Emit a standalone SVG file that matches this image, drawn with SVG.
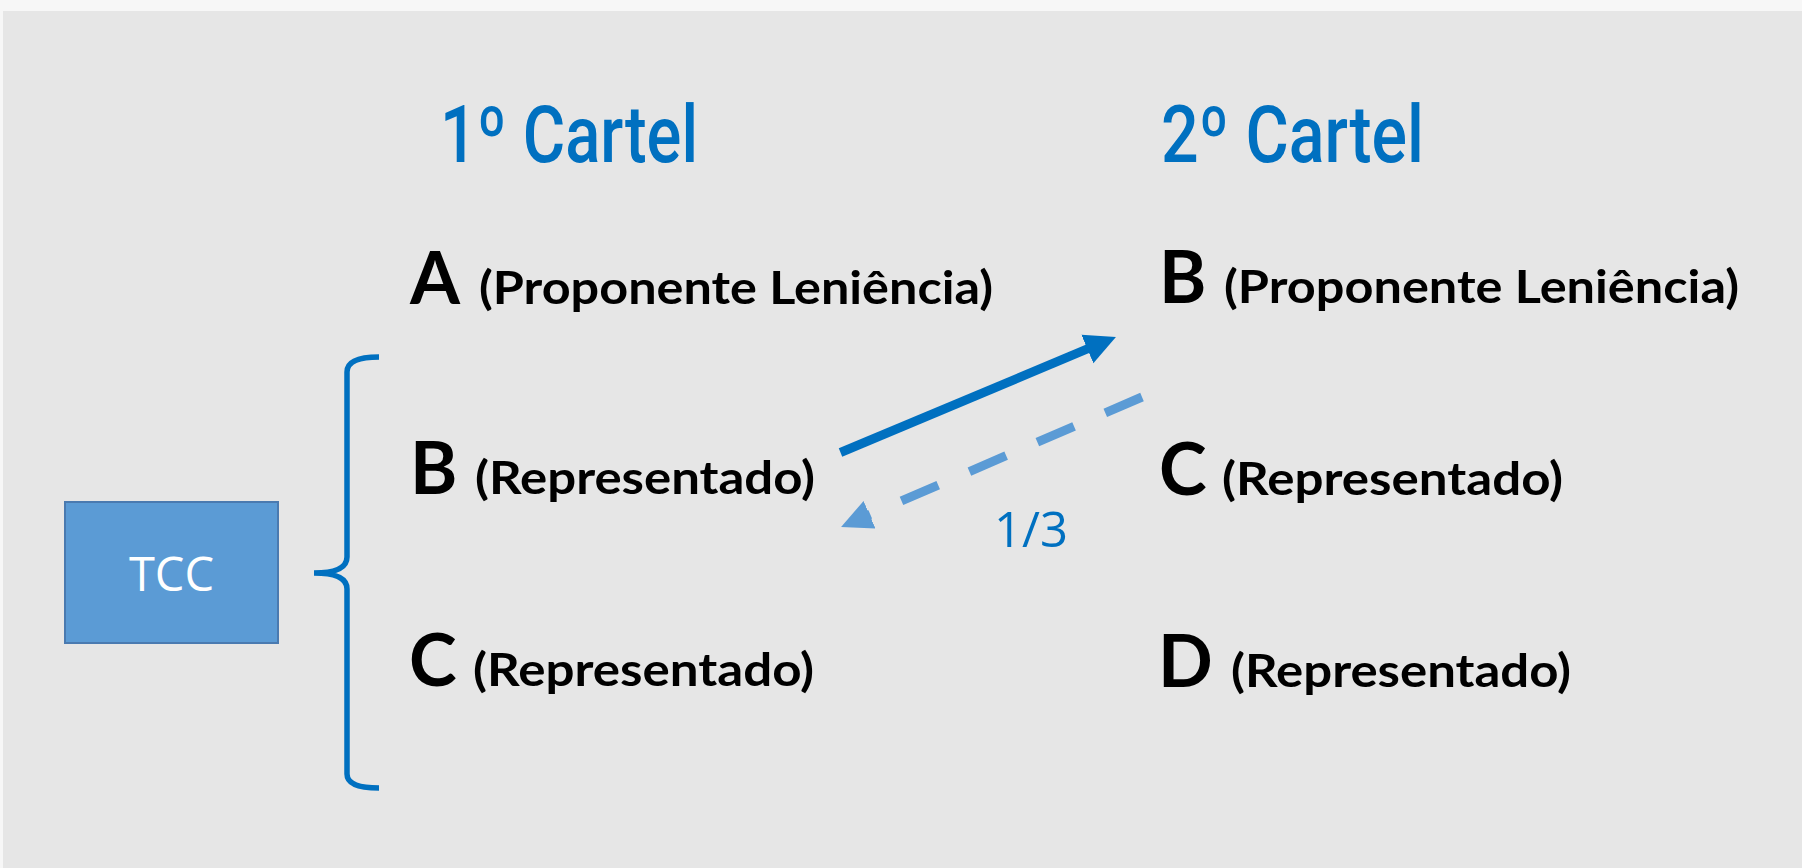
<svg xmlns="http://www.w3.org/2000/svg" width="1802" height="868" viewBox="0 0 1802 868">
<style>
.title{font-family:Roboto,"Liberation Sans",sans-serif;font-weight:500;font-size:79px;fill:#0070c0}
.big{font-family:Lato,"Open Sans",sans-serif;font-weight:700;font-size:72px;fill:#000}
.par{font-family:Lato,"Open Sans",sans-serif;font-weight:700;font-size:46px;fill:#000}
.tcc{font-family:"Open Sans","Liberation Sans",sans-serif;font-size:47px;fill:#fff}
.lbl{font-family:"Open Sans","Liberation Sans",sans-serif;font-size:49px;fill:#0070c0}
</style>
<defs>
<marker id="headSolid" markerUnits="userSpaceOnUse" markerWidth="34" markerHeight="32" refX="2" refY="15.5" orient="auto" viewBox="0 0 34 31">
<path d="M0,0 L31,15.5 L0,31 Z" fill="#0070c0"/>
</marker>
<marker id="headDash" markerUnits="userSpaceOnUse" markerWidth="34" markerHeight="32" refX="2" refY="15" orient="auto" viewBox="0 0 34 30">
<path d="M0,0 L31,15 L0,30 Z" fill="#5b9bd5"/>
</marker>
</defs>
<rect x="0" y="0" width="1802" height="868" fill="#f7f7f7"/>
<rect x="3" y="11" width="1799" height="857" fill="#e6e6e6"/>

<g id="title1"><text class="title" x="440" y="162" textLength="258" lengthAdjust="spacingAndGlyphs">1º Cartel</text></g>
<g id="title2"><text class="title" x="1161" y="162" textLength="263" lengthAdjust="spacingAndGlyphs">2º Cartel</text></g>

<g id="c1-A"><text class="big" x="410" y="304">A</text><text class="par" x="479" y="304" textLength="514" lengthAdjust="spacingAndGlyphs">(Proponente Leniência)</text></g>
<g id="c1-B"><text class="big" x="410" y="494">B</text><text class="par" x="475" y="494" textLength="340" lengthAdjust="spacingAndGlyphs">(Representado)</text></g>
<g id="c1-C"><text class="big" x="409" y="686">C</text><text class="par" x="473" y="686" textLength="341" lengthAdjust="spacingAndGlyphs">(Representado)</text></g>

<g id="c2-B"><text class="big" x="1159" y="303">B</text><text class="par" x="1224" y="303" textLength="515" lengthAdjust="spacingAndGlyphs">(Proponente Leniência)</text></g>
<g id="c2-C"><text class="big" x="1159" y="495">C</text><text class="par" x="1222" y="495" textLength="341" lengthAdjust="spacingAndGlyphs">(Representado)</text></g>
<g id="c2-D"><text class="big" x="1158" y="687">D</text><text class="par" x="1231" y="687" textLength="340" lengthAdjust="spacingAndGlyphs">(Representado)</text></g>

<g id="tcc">
<rect x="65" y="502" width="213" height="141" fill="#5b9bd5" stroke="#4a7ab0" stroke-width="2"/>
<text class="tcc" x="171.5" y="591" text-anchor="middle">TCC</text>
</g>

<g id="brace">
<path d="M379,357 Q347,357 347,372 L347,557 Q347,573 314,573 Q347,573 347,589 L347,774 Q347,788 379,788" fill="none" stroke="#0070c0" stroke-width="5.5"/>
</g>

<g id="connectors">
<line x1="840.5" y1="452.5" x2="1089.2" y2="348.2" stroke="#0070c0" stroke-width="9" marker-end="url(#headSolid)"/>
<line x1="1142" y1="397" x2="867.7" y2="515.5" stroke="#5b9bd5" stroke-width="9" stroke-dasharray="40 34" marker-end="url(#headDash)"/>
<text class="lbl" x="1031" y="547" text-anchor="middle">1/3</text>
</g>
</svg>
